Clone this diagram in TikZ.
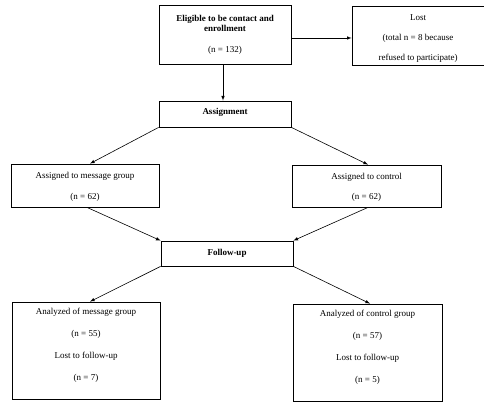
\documentclass[tikz,border=0pt]{standalone}
\usepackage{fontspec}
\setmainfont{Liberation Serif}
\usepackage{tikz}
\usetikzlibrary{shapes.geometric, arrows}
\tikzstyle{box} = [rectangle, draw, line width=0.8pt, text centered, align=center, inner sep=0pt, font=\fontsize{9}{10.4}\selectfont]
\tikzstyle{arrow} = [line width=0.6pt,->,>=latex]

\begin{document}
\begin{tikzpicture}[x=1pt, y=-1pt]
            \useasboundingbox (0,0) rectangle (484,403);
            \node [box, minimum width=132pt, minimum height=59pt] at (225,34.5) (elig) {\textbf{Eligible to be contact and}\\\textbf{enrollment}\\[10.4pt](n = 132)};
            \node [box, minimum width=132pt, minimum height=59pt] at (418,35.5) (lost) {\rule{0pt}{12pt}Lost\\[10pt](total n = 8 because\\[10pt]refused to participate)};
            \node [box, minimum width=132pt, minimum height=26pt] at (225,114) (assign) {\textbf{Assignment}\rule[-6pt]{0pt}{6pt}};
            \node [box, minimum width=148pt, minimum height=43pt] at (85,185.5) (msg) {\rule{0pt}{9pt}Assigned to message group\\[10.4pt](n = 62)};
            \node [box, minimum width=149pt, minimum height=42pt] at (366.5,186) (ctrl) {\rule{0pt}{9pt}Assigned to control\\[10.4pt](n = 62)};
            \node [box, minimum width=132pt, minimum height=25pt] at (227,253.5) (follow) {\textbf{Follow-up}};
            \node [box, minimum width=148pt, minimum height=97pt] at (86,350.5) (anmsg) {Analyzed of message group\\[11.6pt](n = 55)\\[11.6pt]Lost to follow-up\\[11.6pt](n = 7)\\[2pt]};
            \node [box, minimum width=149pt, minimum height=97pt] at (367.5,352.5) (anctrl) {Analyzed of control group\\[11.6pt](n = 57)\\[11.6pt]Lost to follow-up\\[11.6pt](n = 5)\\[2pt]};
            \draw [arrow] ([yshift=-3.5pt]elig.east) -- ([yshift=-3.5pt]elig.east -| lost.west);
            \draw [arrow] ([xshift=-2pt]elig.south) -- ([xshift=-2pt]assign.north);
            \draw [arrow] (assign.south west) -- ([xshift=5pt]msg.north);
            \draw [arrow] (assign.south east) -- ([xshift=1.5pt]ctrl.north);
            \draw [arrow] ([xshift=2pt]msg.south) -- (follow.north west);
            \draw [arrow] ([xshift=1.5pt]ctrl.south) -- (follow.north east);
            \draw [arrow] (follow.south west) -- ([xshift=4pt]anmsg.north);
            \draw [arrow] (follow.south east) -- ([xshift=2.5pt]anctrl.north);
            \end{tikzpicture}
\end{document}
